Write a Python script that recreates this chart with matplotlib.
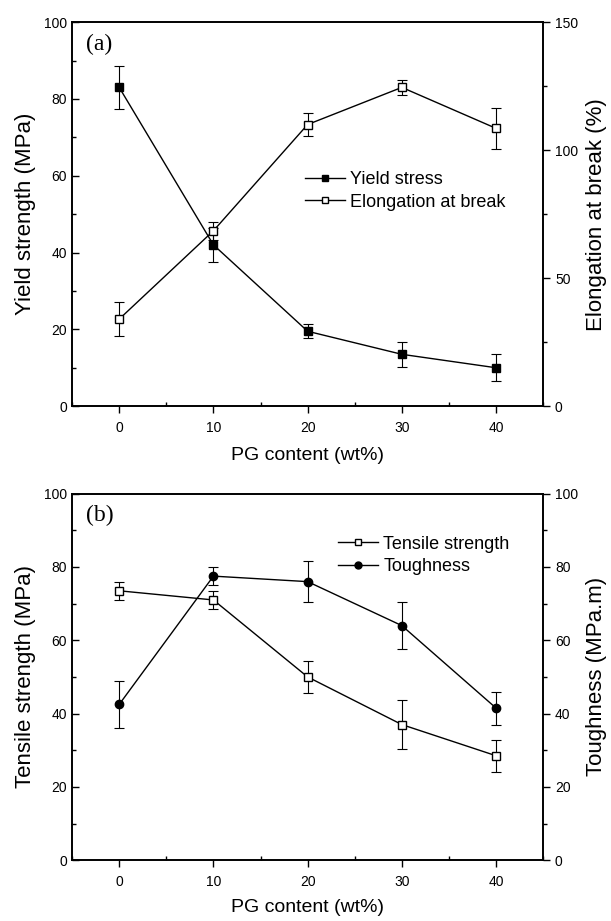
import numpy as np
import matplotlib
matplotlib.use('Agg')
import matplotlib.pyplot as plt
from matplotlib.ticker import MultipleLocator
from matplotlib.lines import Line2D

plt.rcParams['font.family'] = ['Liberation Sans', 'DejaVu Sans']

pg = [0, 10, 20, 30, 40]

# panel (a)
yield_stress = [83, 42, 19.5, 13.5, 10]
yield_err = [5.5, 4.5, 1.8, 3.2, 3.5]
elongation = [34, 68.5, 110, 124.5, 108.5]
elong_err = [6.5, 3.5, 4.5, 3, 8]

# panel (b)
tensile = [73.5, 71, 50, 37, 28.5]
tensile_err = [2.5, 2.5, 4.3, 6.7, 4.3]
toughness = [42.5, 77.5, 76, 64, 41.5]
tough_err = [6.5, 2.5, 5.5, 6.5, 4.5]

fig = plt.figure(figsize=(6.11, 9.21), dpi=100)
ax1 = fig.add_axes([0.118, 0.559, 0.771, 0.417])
ax3 = fig.add_axes([0.118, 0.066, 0.771, 0.398])


def style(ax, ymax, major, minor, right=False):
    ax.set_ylim(0, ymax)
    ax.yaxis.set_major_locator(MultipleLocator(major))
    ax.yaxis.set_minor_locator(MultipleLocator(minor))
    ydir = 'out' if right else 'in'
    ax.tick_params(axis='y', which='major', direction=ydir, length=5, width=1, labelsize=10)
    ax.tick_params(axis='y', which='minor', direction=ydir, length=3, width=1)
    if not right:
        ax.tick_params(axis='x', which='major', direction='out', length=5, width=1, labelsize=10, pad=6)
        ax.tick_params(axis='x', which='minor', direction='in', length=3, width=1)
    for s in ax.spines.values():
        s.set_linewidth(1.2)


ekw = dict(color='black', lw=1, elinewidth=0.8, capsize=3.5, capthick=0.8, ms=6, mec='black')


def handle(marker, fill):
    return Line2D([], [], color='black', lw=1, marker=marker, mfc=fill, mec='black', ms=5)


lkw = dict(frameon=False, fontsize=13, handlelength=2.2, handletextpad=0.3, labelspacing=0.3)

# --- (a)
ax2 = ax1.twinx()
ax1.errorbar(pg, yield_stress, yerr=yield_err, marker='s', mfc='black', **ekw)
ax2.errorbar(pg, elongation, yerr=elong_err, marker='s', mfc='white', **ekw)
ax1.set_xlim(-5, 45)
ax1.xaxis.set_major_locator(MultipleLocator(10))
ax1.xaxis.set_minor_locator(MultipleLocator(5))
style(ax1, 100, 20, 10)
style(ax2, 150, 50, 25, right=True)
ax1.set_ylabel('Yield strength (MPa)', fontsize=16, labelpad=6)
ax2.set_ylabel('Elongation at break (%)', fontsize=16, labelpad=6)
ax1.set_xlabel('PG content (wt%)', fontsize=14, labelpad=8)
ax1.text(0.03, 0.97, '(a)', transform=ax1.transAxes, family='Liberation Serif', fontsize=17, va='top')
ax1.legend([handle('s', 'black'), handle('s', 'white')], ['Yield stress', 'Elongation at break'],
           loc='center left', bbox_to_anchor=(0.46, 0.56), **lkw)

# --- (b)
ax4 = ax3.twinx()
ax3.errorbar(pg, tensile, yerr=tensile_err, marker='s', mfc='white', **ekw)
ax4.errorbar(pg, toughness, yerr=tough_err, marker='o', mfc='black', **ekw)
ax3.set_xlim(-5, 45)
ax3.xaxis.set_major_locator(MultipleLocator(10))
ax3.xaxis.set_minor_locator(MultipleLocator(5))
style(ax3, 100, 20, 10)
style(ax4, 100, 20, 10, right=True)
ax3.set_ylabel('Tensile strength (MPa)', fontsize=16, labelpad=6)
ax4.set_ylabel('Toughness (MPa.m)', fontsize=16, labelpad=6)
ax3.set_xlabel('PG content (wt%)', fontsize=14, labelpad=7)
ax3.text(0.03, 0.97, '(b)', transform=ax3.transAxes, family='Liberation Serif', fontsize=17, va='top')
ax3.legend([handle('s', 'white'), handle('o', 'black')], ['Tensile strength', 'Toughness'],
           loc='upper left', bbox_to_anchor=(0.53, 0.93), **lkw)

fig.savefig('out.png', dpi=100)
